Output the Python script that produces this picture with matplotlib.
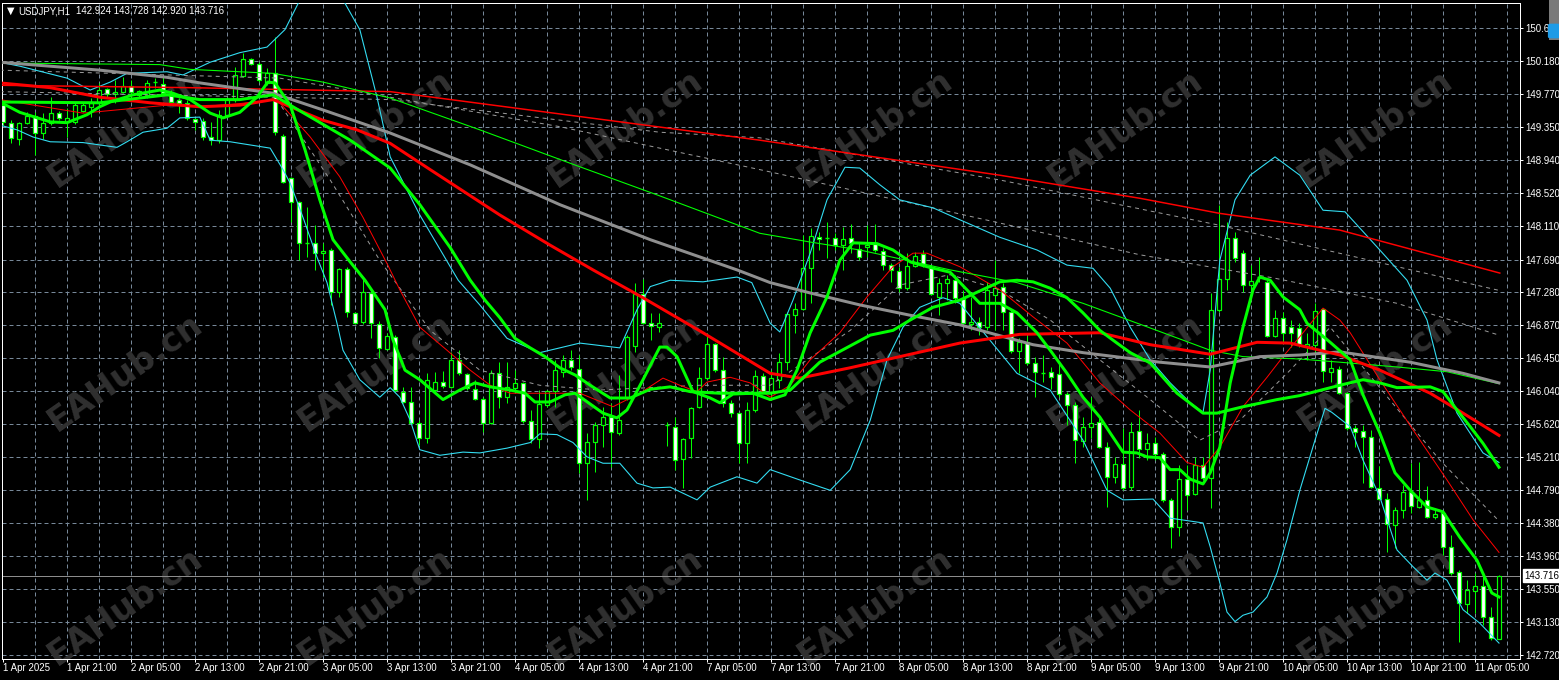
import matplotlib
matplotlib.use('Agg')
import matplotlib.pyplot as plt
from matplotlib.patches import Rectangle, FancyBboxPatch

plt.rcParams['font.family'] = ['Liberation Sans', 'DejaVu Sans']

# USDJPY H1 candles, bar 0 = 1 Apr 13:00
opens = [149.63, 149.41, 149.20, 149.41, 149.49, 149.28, 149.41, 149.53, 149.42, 149.42,
         149.56, 149.61, 149.66, 149.83, 149.77, 149.80, 149.87, 149.76, 149.76, 149.91,
         149.90, 149.77, 149.70, 149.66, 149.46, 149.43, 149.23, 149.19, 149.51, 149.70,
         150.00, 150.21, 150.15, 149.91, 150.04, 149.24, 148.72, 148.41, 147.90, 147.90,
         147.77, 147.81, 147.28, 147.57, 147.02, 146.90, 147.27, 146.88, 146.57, 146.72,
         146.03, 145.90, 145.64, 145.45, 146.05, 146.15, 146.09, 146.43, 146.25, 146.06,
         145.94, 145.64, 146.26, 145.96, 146.08, 146.14, 145.66, 145.44, 145.86, 146.04,
         146.28, 146.43, 146.31, 145.13, 145.40, 145.61, 145.71, 145.51, 145.95, 146.60,
         147.26, 146.89, 146.84, 145.60, 145.59, 145.18, 145.45, 145.84, 146.20, 146.63,
         146.30, 145.89, 145.76, 145.39, 145.80, 146.23, 146.03, 146.18, 146.40, 146.99,
         147.07, 147.58, 147.97, 147.96, 147.96, 147.87, 147.96, 147.82, 147.85, 147.89,
         147.80, 147.62, 147.55, 147.33, 147.61, 147.76, 147.60, 147.22, 147.40, 147.43,
         147.19, 146.88, 146.90, 146.84, 147.24, 147.34, 147.03, 146.54, 146.65, 146.39,
         146.26, 146.28, 146.25, 146.00, 145.86, 145.41, 145.59, 145.65, 145.33, 144.96,
         145.12, 144.83, 145.54, 145.31, 145.39, 145.25, 144.67, 144.33, 144.93, 144.74,
         145.11, 144.94, 147.06, 147.45, 147.96, 147.77, 147.37, 147.47, 147.41, 146.73,
         146.96, 146.84, 146.83, 146.60, 146.62, 147.07, 146.28, 146.31, 146.01, 145.57,
         145.54, 145.46, 144.82, 144.68, 144.35, 144.54, 144.77, 144.58, 144.67, 144.45,
         144.50, 144.08, 143.76, 143.36, 143.52, 143.59, 143.20, 142.924]
highs = [149.70, 149.44, 149.42, 149.54, 149.54, 149.53, 149.73, 149.56, 149.59, 149.66,
         149.66, 149.72, 149.91, 149.85, 149.95, 149.98, 149.95, 149.82, 149.95, 149.97,
         149.98, 149.82, 149.72, 149.70, 149.47, 149.47, 149.42, 149.57, 149.73, 150.11,
         150.29, 150.22, 150.17, 150.10, 150.49, 149.27, 148.73, 148.43, 148.35, 148.12,
         147.90, 147.84, 147.58, 147.60, 147.03, 147.47, 147.31, 146.92, 146.77, 146.74,
         146.09, 146.09, 145.67, 146.26, 146.28, 146.29, 146.53, 146.55, 146.26, 146.18,
         145.96, 146.30, 146.40, 146.40, 146.30, 146.15, 145.80, 146.05, 146.05, 146.43,
         146.49, 146.55, 146.49, 145.51, 145.65, 145.84, 145.89, 146.24, 146.74, 147.40,
         147.45, 147.02, 147.02, 145.65, 145.71, 145.45, 145.84, 146.34, 146.77, 146.64,
         146.47, 145.93, 145.77, 145.90, 146.30, 146.26, 146.30, 146.52, 147.03, 147.14,
         148.00, 148.09, 148.04, 148.16, 148.02, 148.10, 148.14, 147.90, 148.12, 148.14,
         147.84, 147.65, 147.60, 147.77, 147.78, 147.81, 147.62, 147.46, 147.50, 147.50,
         147.31, 147.22, 146.97, 147.41, 147.68, 147.40, 147.06, 146.70, 146.74, 146.47,
         146.49, 146.34, 146.39, 146.03, 145.90, 145.71, 145.96, 145.70, 145.40, 145.21,
         145.57, 145.65, 145.80, 145.51, 145.46, 145.27, 144.69, 145.11, 145.11, 145.21,
         145.21, 147.27, 148.38, 148.16, 148.04, 147.81, 147.62, 147.72, 147.43, 147.06,
         147.03, 146.93, 146.89, 146.77, 147.14, 147.08, 146.43, 146.35, 146.03, 145.61,
         145.61, 145.55, 145.10, 144.76, 144.58, 144.86, 145.13, 145.15, 144.84, 144.57,
         144.52, 144.23, 143.79, 143.66, 143.75, 143.75, 143.32, 143.728]
lows = [149.38, 149.15, 149.13, 149.39, 149.00, 149.20, 149.38, 149.44, 149.23, 149.39,
        149.54, 149.48, 149.61, 149.73, 149.66, 149.78, 149.73, 149.73, 149.72, 149.85,
        149.76, 149.63, 149.53, 149.44, 149.32, 149.19, 149.13, 149.15, 149.48, 149.67,
        149.98, 150.14, 149.92, 149.88, 149.26, 148.65, 148.16, 147.68, 147.72, 147.56,
        147.47, 147.12, 147.22, 146.97, 146.88, 146.88, 146.70, 146.45, 146.55, 146.03,
        145.89, 145.62, 145.36, 145.39, 146.01, 146.08, 146.08, 146.24, 146.05, 145.93,
        145.52, 145.62, 145.82, 145.89, 146.01, 145.64, 145.39, 145.32, 145.84, 145.84,
        146.21, 146.30, 145.01, 144.67, 145.02, 145.33, 145.08, 145.49, 145.93, 146.53,
        146.88, 146.68, 146.78, 145.35, 145.05, 144.82, 145.20, 145.82, 146.18, 146.28,
        145.84, 145.71, 145.13, 145.13, 145.77, 146.03, 145.93, 146.08, 146.30, 146.77,
        147.06, 147.14, 147.81, 147.71, 147.81, 147.56, 147.77, 147.68, 147.72, 147.78,
        147.56, 147.41, 147.28, 147.31, 147.60, 147.60, 147.24, 146.99, 147.18, 147.14,
        146.87, 146.80, 146.74, 146.80, 146.80, 146.80, 146.52, 146.26, 146.36, 145.96,
        146.15, 146.06, 145.96, 145.61, 145.13, 145.33, 145.45, 145.32, 144.58, 144.88,
        144.79, 144.79, 145.20, 145.17, 145.17, 144.64, 144.06, 144.22, 144.54, 144.73,
        144.92, 144.57, 147.03, 147.31, 147.66, 147.28, 147.28, 147.41, 146.72, 146.72,
        146.64, 146.59, 146.59, 146.43, 146.52, 146.15, 146.15, 146.00, 145.55, 145.33,
        144.88, 144.82, 144.67, 144.01, 144.06, 144.44, 144.50, 144.57, 144.44, 144.43,
        143.98, 143.73, 142.88, 143.25, 143.25, 143.10, 142.91, 142.920]
closes = [149.42, 149.22, 149.41, 149.49, 149.28, 149.41, 149.53, 149.47, 149.47, 149.63,
          149.63, 149.66, 149.82, 149.77, 149.80, 149.87, 149.80, 149.81, 149.91, 149.92,
          149.78, 149.67, 149.66, 149.47, 149.42, 149.23, 149.19, 149.51, 149.71, 150.01,
          150.21, 150.15, 149.95, 150.04, 149.29, 148.66, 148.41, 147.90, 147.89, 147.77,
          147.80, 147.28, 147.57, 147.03, 146.89, 147.28, 146.89, 146.58, 146.73, 146.05,
          145.90, 145.64, 145.45, 146.18, 146.15, 146.10, 146.43, 146.26, 146.08, 145.94,
          145.64, 146.26, 145.96, 146.09, 146.14, 145.66, 145.44, 145.87, 146.04, 146.30,
          146.43, 146.34, 145.13, 145.40, 145.61, 145.71, 145.52, 145.67, 146.72, 147.26,
          146.89, 146.85, 146.89, 145.61, 145.17, 145.43, 145.82, 146.20, 146.63, 146.30,
          145.89, 145.76, 145.39, 145.80, 146.23, 146.04, 146.20, 146.40, 147.01, 147.07,
          147.58, 147.99, 147.95, 147.95, 147.87, 147.95, 147.90, 147.72, 147.87, 147.81,
          147.62, 147.56, 147.33, 147.61, 147.73, 147.62, 147.26, 147.40, 147.45, 147.21,
          146.89, 146.90, 146.84, 147.31, 147.33, 147.03, 146.54, 146.65, 146.39, 146.28,
          146.27, 146.21, 146.00, 145.86, 145.42, 145.59, 145.64, 145.33, 144.96, 145.12,
          144.82, 145.52, 145.31, 145.39, 145.25, 144.67, 144.33, 144.93, 144.73, 145.11,
          144.94, 147.06, 147.45, 147.96, 147.71, 147.37, 147.42, 147.46, 146.73, 146.96,
          146.77, 146.77, 146.63, 146.63, 147.04, 146.29, 146.33, 146.01, 145.57, 145.52,
          145.46, 144.83, 144.68, 144.37, 144.54, 144.77, 144.59, 144.67, 144.45, 144.49,
          144.08, 143.75, 143.37, 143.54, 143.59, 143.20, 142.93, 143.716]

# indicator lines: (bar, price)
ma_fast = [(-0.4, 149.67), (2.1, 149.54), (5.9, 149.42), (8, 149.41), (10.5, 149.51), (12.1, 149.61),
           (13.4, 149.67), (16.25, 149.76), (19.6, 149.82), (21.25, 149.78), (23.4, 149.70),
           (25.9, 149.53), (27.5, 149.47), (29.6, 149.54), (31.75, 149.73), (33.1, 149.92), (34, 149.91),
           (35.9, 149.63), (37.75, 149.07), (39.6, 148.44), (41.25, 147.94), (43.4, 147.66),
           (45.25, 147.43), (47.75, 147.06), (48.75, 146.68), (50.25, 146.30), (52.1, 146.18),
           (55, 145.93), (57.1, 146.05), (59, 146.14), (60.9, 146.09), (63.4, 146.05), (65.25, 146.01),
           (66.5, 145.90), (68.4, 145.90), (70.25, 145.99), (71.5, 146.01), (75, 145.76), (76.75, 145.70),
           (78, 145.80), (80, 146.18), (82.1, 146.59), (83, 146.59), (84.25, 146.47), (86.25, 146.03),
           (88.4, 145.95), (89.6, 145.89), (91.25, 146.00), (93.75, 146.01), (95.9, 145.93),
           (97.75, 145.99), (99.25, 146.30), (100.9, 146.77), (103, 147.22), (104.6, 147.68),
           (106.25, 147.90), (109.25, 147.89), (111.25, 147.81), (113.4, 147.66), (115.5, 147.60),
           (118.4, 147.53), (122.1, 147.14), (124.6, 147.14), (126.75, 147.02), (129.25, 146.77),
           (130.9, 146.55), (133, 146.26), (135, 145.96), (137.1, 145.71), (138.4, 145.51), (140, 145.27),
           (141.75, 145.26), (143, 145.21), (144.6, 145.20), (145.9, 145.05), (147.1, 145.05),
           (148.4, 144.93), (150, 144.87), (150.9, 145.01), (152.1, 145.33), (153.4, 146.14),
           (155, 146.84), (156.25, 147.31), (157.1, 147.47), (158.4, 147.43), (160, 147.22),
           (162.1, 147.06), (163, 146.89), (165.9, 146.65), (168.4, 146.43), (170, 145.99),
           (172.1, 145.51), (174, 145.01), (175.9, 144.79), (178, 144.58), (180, 144.52),
           (182.1, 144.20), (184.25, 143.91), (186.1, 143.50), (187, 143.45)]
ma_mid = [(-0.4, 149.67), (12.1, 149.66), (20.5, 149.76), (24.6, 149.70), (29.6, 149.70), (33.75, 149.76),
          (35.9, 149.63), (43.4, 149.19), (48.4, 148.84), (52.1, 148.38), (55.9, 147.84), (58.4, 147.43),
          (60.25, 147.18), (62.1, 146.96), (64, 146.70), (65.9, 146.58), (67.75, 146.47), (69.6, 146.33),
          (71.5, 146.24), (73.4, 146.11), (75.9, 145.95), (78.4, 145.95), (80.9, 146.06), (83.4, 146.09),
          (85.9, 146.03), (89.6, 146.01), (95.9, 146.01), (98.4, 146.05), (102.1, 146.40), (108.4, 146.74),
          (111.25, 146.80), (113.4, 146.93), (116.25, 147.09), (119.6, 147.18), (124.6, 147.41),
          (126.75, 147.43), (128.75, 147.41), (130.9, 147.33), (133, 147.21), (135, 147.02),
          (137.1, 146.80), (139.25, 146.64), (140.9, 146.52), (143.4, 146.39), (146.75, 146.01),
          (150, 145.76), (151.75, 145.76), (155, 145.84), (159.25, 145.93), (162.1, 145.98),
          (167.1, 146.11), (170, 146.18), (172.1, 146.14), (174.25, 146.08), (178.4, 146.09),
          (180, 146.03), (181.75, 145.80), (183.4, 145.59), (185, 145.38), (187, 145.08)]
ma_slow_green = [(-0.4, 150.16), (19.6, 150.14), (23.4, 150.08), (33.75, 150.03), (40, 149.92),
                 (48.4, 149.72), (59.6, 149.32), (70.9, 148.90), (82.1, 148.49), (94.6, 148.02),
                 (100.9, 147.91), (107.1, 147.81), (118.4, 147.56), (126.75, 147.40), (135, 147.14),
                 (143.4, 146.83), (150.9, 146.55), (155, 146.47), (162.1, 146.44), (167.1, 146.40),
                 (174.25, 146.34), (180.5, 146.28), (187, 146.13)]
ma_red_thick = [(-0.4, 149.91), (5.9, 149.85), (12.1, 149.73), (18.4, 149.66), (24.6, 149.61),
                (29.6, 149.63), (33.75, 149.70), (40, 149.44), (44.25, 149.32), (48.4, 149.15),
                (53.4, 148.82), (62.1, 148.25), (68.4, 147.87), (73.75, 147.56), (80, 147.21),
                (87.5, 146.77), (95.9, 146.26), (99.6, 146.20), (105.9, 146.33), (112.1, 146.47),
                (119.6, 146.64), (127.1, 146.75), (137.1, 146.77), (143.4, 146.62), (150.9, 146.50),
                (156.75, 146.65), (160.9, 146.64), (167.1, 146.49), (172.1, 146.30), (178.4, 146.01),
                (182.5, 145.76), (187, 145.48)]
ma_red_long = [(-0.4, 149.88), (23.4, 149.85), (48.4, 149.80), (69.6, 149.52), (94.6, 149.19),
               (124.6, 148.75), (142.1, 148.46), (152.1, 148.27), (167.1, 148.06), (187.1, 147.52)]
ma_red_thin = [(-0.4, 149.70), (10, 149.53), (20.5, 149.63), (24.6, 149.61), (29.6, 149.65),
               (34.25, 149.70), (38.4, 149.23), (42.1, 148.73), (45, 148.22), (48.1, 147.62),
               (49.6, 147.31), (52.1, 146.84), (55.5, 146.55), (58.4, 146.30), (60.9, 146.11),
               (63.4, 146.01), (67.1, 146.01), (72.1, 146.01), (76.25, 145.84), (79.6, 146.01),
               (82.5, 146.20), (84.6, 146.11), (86.75, 146.03), (88, 146.15), (90.9, 146.21),
               (93.4, 146.14), (95.9, 145.96), (98.4, 146.11), (100.9, 146.43), (104.6, 146.77),
               (108, 147.22), (111.25, 147.60), (113.75, 147.77), (115.5, 147.77), (119.6, 147.60),
               (124.6, 147.31), (128.75, 146.97), (133, 146.64), (137.1, 146.14), (140.9, 145.80),
               (144.6, 145.51), (148, 145.14), (150, 145.08), (152.1, 145.33), (155, 145.84),
               (158, 146.21), (160, 146.47), (162.1, 146.72), (165, 147.08), (167.1, 146.93),
               (168.4, 146.77), (172.1, 146.18), (176.25, 145.55), (180.5, 144.92), (183.75, 144.42),
               (187, 144.01)]
ma_gray = [(-0.4, 150.17), (12.1, 150.07), (20.5, 149.98), (24.6, 149.91), (33.75, 149.78), (40, 149.57),
           (48.4, 149.28), (58.4, 148.88), (69.6, 148.38), (80.9, 147.94), (91.75, 147.56), (95.9, 147.40),
           (100.9, 147.27), (107.1, 147.12), (113.4, 146.99), (119.6, 146.87), (128.75, 146.62),
           (135, 146.52), (144.6, 146.40), (150.9, 146.34), (157.1, 146.47), (162.1, 146.49),
           (167.1, 146.53), (175.9, 146.40), (182.5, 146.26), (187, 146.14)]
bb_upper = [(-0.4, 150.17), (2.1, 150.12), (8, 149.97), (10.9, 149.82), (13.4, 149.92), (15.5, 150.03),
            (20.5, 150.05), (22.5, 150.01), (25.9, 150.17), (29.6, 150.29), (33, 150.36), (35.25, 150.58),
            (36.9, 150.91), (39.6, 151.27), (42.75, 150.91), (44.6, 150.58), (46.75, 149.73),
            (48.4, 148.98), (52.1, 148.25), (56.9, 147.43), (59.6, 147.12), (63, 146.70), (67.1, 146.52),
            (72.1, 146.64), (77.1, 146.58), (79.25, 147.06), (80.9, 147.35), (83.4, 147.43),
            (87.5, 147.41), (91.75, 147.47), (93.6, 147.40), (95.9, 146.89), (97.1, 146.78),
            (98.75, 147.18), (100.9, 147.77), (103, 148.44), (105.25, 148.85), (107.1, 148.84),
            (109.6, 148.63), (112.1, 148.44), (116.25, 148.34), (119.6, 148.19), (124.6, 147.97),
            (129.25, 147.81), (133, 147.62), (136.25, 147.58), (138.4, 147.33), (140.9, 146.84),
            (143.4, 146.43), (145.9, 146.14), (148.4, 145.89), (150, 145.77), (150.9, 146.30),
            (152.1, 147.68), (154, 148.44), (155.9, 148.75), (159, 148.98), (162.1, 148.75),
            (165, 148.31), (167.75, 148.29), (172.1, 147.81), (175.5, 147.43), (178, 146.93),
            (179.25, 146.43), (181.75, 145.76), (185, 145.26), (187, 145.14)]
bb_lower = [(-0.4, 149.38), (1.75, 149.32), (3.75, 149.23), (5.9, 149.17), (10, 149.16), (14.25, 149.10),
            (15.5, 149.17), (17.5, 149.29), (20.5, 149.34), (22.1, 149.47), (24.6, 149.48), (25.9, 149.19),
            (28.4, 149.17), (30.9, 149.13), (33.4, 149.09), (35, 148.82), (35.9, 148.65), (37.5, 148.22),
            (39.25, 147.72), (40.5, 147.40), (41.75, 146.89), (42.5, 146.55), (44.6, 146.18),
            (47.1, 145.96), (48.4, 146.08), (49.6, 145.96), (50.9, 145.67), (52.1, 145.30), (54.6, 145.23),
            (57.5, 145.27), (59.6, 145.26), (63, 145.32), (65.9, 145.39), (67.1, 145.50), (69.25, 145.49),
            (71.25, 145.39), (73, 145.21), (75, 145.13), (77.1, 145.13), (79.25, 144.88), (81.25, 144.82),
            (83.4, 144.83), (86.75, 144.67), (88.4, 144.83), (91.75, 144.96), (94.25, 144.88),
            (95.9, 145.05), (99.6, 144.92), (103.4, 144.79), (105.9, 145.05), (108.4, 145.67),
            (110.5, 146.43), (112.5, 146.84), (114.6, 147.09), (117.5, 147.21), (119.6, 147.14),
            (126.75, 146.26), (130.9, 146.05), (135, 145.42), (138, 144.79), (140, 144.67),
            (143.75, 144.68), (145.9, 144.44), (150, 144.38), (150.9, 144.08), (152.1, 143.63),
            (153, 143.26), (154, 143.14), (155, 143.22), (156.25, 143.26), (158, 143.45),
            (159.25, 143.75), (160.5, 144.17), (162.1, 144.79), (164, 145.42), (165.25, 145.82),
            (166.1, 145.77), (168.4, 145.59), (170, 145.17), (172.1, 144.71), (174.25, 144.04),
            (176.25, 143.83), (178, 143.66), (179, 143.75), (180.5, 143.66), (182.5, 143.29),
            (184.6, 143.12), (187, 142.87)]
dash_slow = [(-0.4, 150.07), (34.6, 149.97), (69.6, 149.36), (94.6, 148.82), (118.4, 148.29),
             (142.1, 147.75), (158.75, 147.46), (174.25, 147.14), (187, 146.74)]
dash_long = [(-0.4, 149.80), (48.4, 149.70), (82.1, 149.29), (94.6, 149.22), (124.6, 148.69),
             (152.1, 148.12), (187.1, 147.30)]
dash_mid = [(34.25, 149.70), (40.9, 148.69), (47.1, 147.68), (53.4, 146.80), (59.6, 146.30),
            (67.1, 146.11), (74.6, 146.05), (87.1, 146.11), (95.9, 146.11), (105.9, 146.80),
            (112.1, 147.37), (118.4, 147.50), (124.6, 147.31), (130.9, 146.93), (137.1, 146.43),
            (143.4, 145.93), (149.6, 145.42), (154.6, 145.67), (160.9, 146.30), (165.9, 146.84),
            (173.4, 145.92), (179.6, 145.17), (186.75, 144.43)]

price_levels = [150.600, 150.180, 149.770, 149.350, 148.940, 148.520, 148.110, 147.690, 147.280,
                146.870, 146.450, 146.040, 145.620, 145.210, 144.790, 144.380, 143.960, 143.550,
                143.130, 142.720]
time_labels = ['1 Apr 2025', '1 Apr 21:00', '2 Apr 05:00', '2 Apr 13:00', '2 Apr 21:00', '3 Apr 05:00',
               '3 Apr 13:00', '3 Apr 21:00', '4 Apr 05:00', '4 Apr 13:00', '4 Apr 21:00', '7 Apr 05:00',
               '7 Apr 13:00', '7 Apr 21:00', '8 Apr 05:00', '8 Apr 13:00', '8 Apr 21:00', '9 Apr 05:00',
               '9 Apr 13:00', '9 Apr 21:00', '10 Apr 05:00', '10 Apr 13:00', '10 Apr 21:00',
               '11 Apr 05:00']
time_bars = list(range(0, 8 * len(time_labels), 8))
symbol = 'USDJPY,H1'
watermark = 'EAHub.cn'

W, H = 1559, 680
PX = 0.72  # one pixel in points

fig = plt.figure(figsize=(W / 100, H / 100), dpi=100, facecolor='black')
ax = fig.add_axes([2 / W, (H - 659) / H, (1520 - 2) / W, (659 - 3) / H])
ax.set_facecolor('black')
ax.set_xlim(-0.125, 189.625)
ax.set_ylim(142.670, 150.914)

grid_col = '#778899'
for p in price_levels:
    ax.axhline(p, color=grid_col, lw=PX, dashes=(4, 3), zorder=0.5)
for b in range(4, 190, 4):
    ax.axvline(b, color=grid_col, lw=PX, dashes=(4, 3), zorder=0.5)

# watermark
for wy in (128, 372, 606):
    for wx in (125, 375, 625, 875, 1125, 1375):
        ax.text(wx / W, 1 - wy / H, watermark, transform=fig.transFigure, rotation=35,
                rotation_mode='anchor', ha='center', va='center', fontsize=24,
                fontweight='bold', family='DejaVu Sans', color='#303030', zorder=0.8,
                clip_on=False)

# current price line
ax.axhline(closes[-1], color='#8c8c8c', lw=PX, zorder=1)

# candles
green = '#00ff00'
for k in range(len(opens)):
    o, h, l, c = opens[k], highs[k], lows[k], closes[k]
    ax.vlines(k, l, h, color=green, lw=PX, zorder=2)
    lo, hi = min(o, c), max(o, c)
    if hi - lo < 0.012:
        ax.hlines((o + c) / 2, k - 0.3, k + 0.3, color=green, lw=PX * 1.4, zorder=3)
    else:
        fc = 'black' if c > o else 'white'
        ax.add_patch(Rectangle((k - 0.25, lo), 0.5, hi - lo, facecolor=fc, edgecolor=green,
                               lw=PX * 1.2, zorder=3))


def draw(pts, color, lw, z, **kw):
    xs = [p[0] for p in pts]
    ys = [p[1] for p in pts]
    ax.plot(xs, ys, color=color, lw=lw, zorder=z, solid_joinstyle='round', **kw)


draw(dash_slow, '#9a9a9a', PX, 4, dashes=(4, 4))
draw(dash_long, '#9a9a9a', PX, 4, dashes=(4, 4))
draw(dash_mid, '#9a9a9a', PX, 4, dashes=(4, 4))
draw(bb_upper, '#33ddf2', PX * 1.1, 4.2)
draw(bb_lower, '#33ddf2', PX * 1.1, 4.2)
draw(ma_red_long, '#ff0000', PX * 1.5, 4.3)
draw(ma_red_thin, '#ff0000', PX, 4.3)
draw(ma_slow_green, '#00ff00', PX * 1.1, 4.3)
draw(ma_gray, '#8f8f8f', PX * 3, 4.5)
draw(ma_red_thick, '#ff0000', PX * 3, 4.6)
draw(ma_mid, '#00ff00', PX * 3, 4.7)
draw(ma_fast, '#00ff00', PX * 3, 4.8)

for side in ax.spines.values():
    side.set_color('white')
    side.set_linewidth(PX)

ax.yaxis.tick_right()
ax.set_yticks(price_levels)
ax.set_yticklabels(['%.3f' % p for p in price_levels])
ax.set_xticks(time_bars)
ax.set_xticklabels(time_labels, ha='left')
ax.tick_params(axis='y', colors='white', length=3 * PX, width=PX, labelsize=7, pad=2)
ax.tick_params(axis='x', colors='white', length=3 * PX, width=PX, labelsize=7, pad=1)

# current price tag on the axis
ax.annotate('%.3f' % closes[-1], xy=(1.0, closes[-1]), xycoords=('axes fraction', 'data'),
            xytext=(3, 0), textcoords='offset points', ha='left', va='center', fontsize=7,
            color='black', bbox=dict(boxstyle='square,pad=0.15', fc='white', ec='white'),
            annotation_clip=False, zorder=10)

# header
fig.text(7 / W, 1 - 11 / H, '\u25bc', color='white', fontsize=7, va='center', ha='left',
         family='DejaVu Sans')
fig.text(18 / W, 1 - 11 / H, symbol, color='white', fontsize=7, va='center', ha='left')
fig.text(76 / W, 1 - 11 / H,
         '%.3f %.3f %.3f %.3f' % (opens[-1], highs[-1], lows[-1], closes[-1]),
         color='white', fontsize=7, va='center', ha='left')

# scroll marker at the top right
fig.patches.append(Rectangle((1549 / W, 1 - 40 / H), 10 / W, 40 / H, transform=fig.transFigure,
                             facecolor='#7a7a7a', edgecolor='none'))
fig.patches.append(FancyBboxPatch((1551 / W, 1 - 37 / H), 6 / W, 12 / H, transform=fig.transFigure,
                                  boxstyle='round,pad=0.002', facecolor='#1e9be6',
                                  edgecolor='none'))

fig.savefig('out.png', dpi=100, facecolor='black')
